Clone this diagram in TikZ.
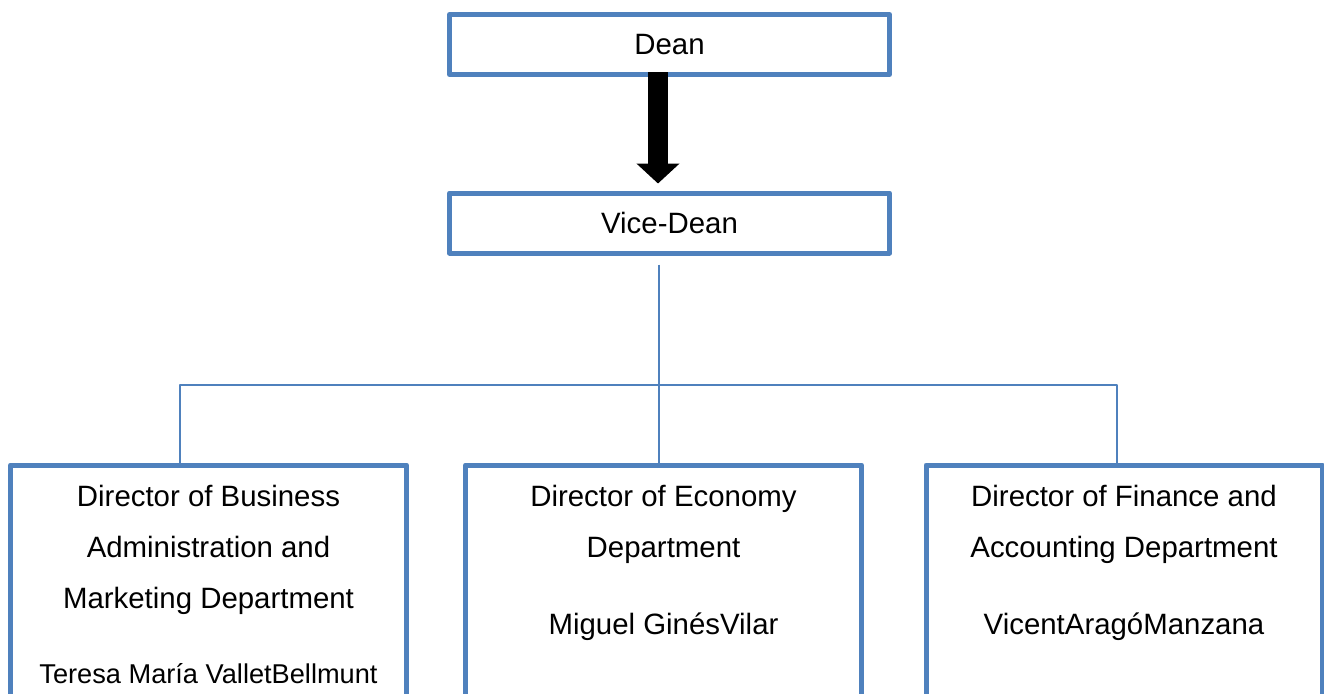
\documentclass[tikz,border=0pt]{standalone}
\usepackage{fontspec}
\setmainfont{Liberation Sans}
\usetikzlibrary{arrows.meta,positioning}
\definecolor{boxblue}{HTML}{4F81BD}
\begin{document}
\begin{tikzpicture}[x=0.5pt, y=-0.5pt, font=\fontsize{14.7pt}{25.5pt}\selectfont, line join=round,
  box/.style={draw=boxblue, line width=2.5pt, outer sep=0pt, inner sep=0pt, minimum width=220pt, minimum height=30pt},
  dept/.style={box, minimum width=198pt, minimum height=150pt, anchor=north},
  txt/.style={align=center, anchor=north, inner sep=0pt},
  conn/.style={draw=boxblue, line width=0.75pt}]
\def\hy{385}
\useasboundingbox (0,0) rectangle (1324,693);
\clip (0,0) rectangle (1324,693);
\node[box] (dean) at (669.5,44.5) {Dean};
\node[box] (vice) at (669.5,223) {Vice-Dean};
\node[dept] (bam) at (208.5,465) {};
\node[dept] (eco) at (663.5,465) {};
\node[dept] (fin) at (1124,465) {};
\node[txt] (bam-txt) at ([yshift=-10pt]bam.north) {Director of Business\\Administration and\\Marketing Department\\[12pt]{\fontsize{13.6pt}{25.5pt}\selectfont Teresa María ValletBellmunt}};
\node[txt] (eco-txt) at ([yshift=-10pt]eco.north) {Director of Economy\\Department\\[13pt]Miguel GinésVilar};
\node[txt] (fin-txt) at ([yshift=-10pt]fin.north) {Director of Finance and\\Accounting Department\\[13pt]VicentAragóManzana};
% block arrow
\draw[line width=10pt, -{Triangle[width=21pt,length=10pt]}, shorten <=-1.25pt, shorten >=4.75pt] ([xshift=-5.75pt]dean.south) -- ([xshift=-5.75pt]vice.north);
% connectors
\coordinate (hub) at (659,\hy);
\coordinate (bl) at (180,\hy);
\coordinate (br) at (1117,\hy);
\draw[conn, shorten <=5.75pt] (hub |- vice.south) -- (hub |- eco.north);
\draw[conn] (bl |- bam.north) -- (bl) -- (br) -- (br |- fin.north);
\end{tikzpicture}
\end{document}
